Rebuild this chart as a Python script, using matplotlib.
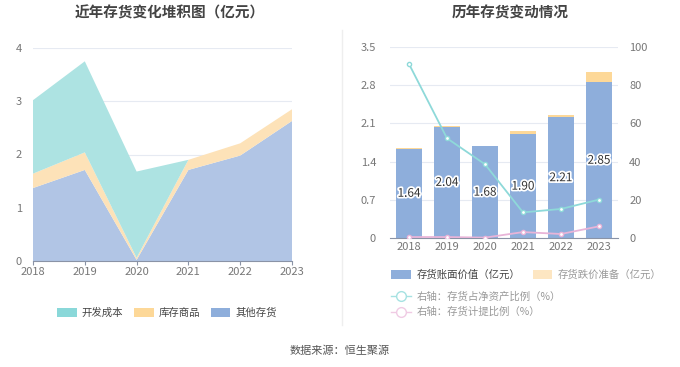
import numpy as np
import matplotlib.pyplot as plt
import matplotlib.patheffects as pe
from matplotlib.patches import Patch
from matplotlib.lines import Line2D

plt.rcParams['font.family'] = ['Noto Sans CJK SC', 'DejaVu Sans']

years = ['2018', '2019', '2020', '2021', '2022', '2023']

# left: stacked area (亿元)
other_stock = [1.37, 1.71, 0.02, 1.71, 1.98, 2.63]
goods_stock = [0.27, 0.33, 0.04, 0.19, 0.23, 0.22]
dev_cost = [1.38, 1.71, 1.62, 0.0, 0.0, 0.0]

# right: bars (亿元) and ratios (%)
book_value = [1.64, 2.04, 1.68, 1.90, 2.21, 2.85]
provision = [0.01, 0.01, 0.0, 0.055, 0.04, 0.19]
ratio_net_assets = [91.1, 52.2, 38.6, 13.4, 15.2, 20.1]
ratio_provision = [0.5, 0.5, 0.2, 3.1, 2.1, 6.1]

W, H = 680, 367
fig = plt.figure(figsize=(6.8, 3.67), dpi=100)
tick_color = '#777777'
grid_color = '#e6eaf2'


def fx(px):
    return px / W


def fy(py):
    return 1 - py / H


# ---------- left chart ----------
ax1 = fig.add_axes([fx(33), fy(261), fx(292 - 33), fy(48) - fy(261)])
x = np.arange(len(years))
ax1.stackplot(x, other_stock, goods_stock, dev_cost,
              colors=['#b1c5e5', '#fde2b8', '#ade3e2'], linewidth=0)
ax1.set_xlim(0, 5)
ax1.set_ylim(0, 4)
ax1.set_yticks([0, 1, 2, 3, 4])
ax1.set_xticks(x)
ax1.set_xticklabels(years)
ax1.grid(axis='y', color=grid_color, lw=0.8)
ax1.set_axisbelow(True)
for s in ['top', 'right', 'left']:
    ax1.spines[s].set_visible(False)
ax1.spines['bottom'].set_color('#8a93a6')
ax1.tick_params(axis='y', length=0, labelsize=8, labelcolor=tick_color, pad=8)
ax1.tick_params(axis='x', length=3, color='#8a93a6', labelsize=8, labelcolor=tick_color, pad=1)

fig.text(fx(170), fy(13), '近年存货变化堆积图（亿元）', ha='center', va='center',
         fontsize=10.5, fontweight='bold', color='#444444')

left_handles = [Patch(facecolor='#8ad8d9', edgecolor='none'),
                Patch(facecolor='#fdd898', edgecolor='none'),
                Patch(facecolor='#8eaedb', edgecolor='none')]
fig.legend(left_handles, ['开发成本', '库存商品', '其他存货'], loc='center',
           bbox_to_anchor=(fx(167), fy(313)), ncol=3, frameon=False, fontsize=7.5,
           handlelength=1.9, handleheight=0.9, columnspacing=1.0, handletextpad=0.5,
           labelcolor='#444444')

# separator
fig.add_artist(Line2D([fx(342), fx(342)], [fy(30), fy(325)], color='#eeeeee', lw=1))

# ---------- right chart ----------
ax2 = fig.add_axes([fx(390), fy(238), fx(618 - 390), fy(47) - fy(238)])
ax2.bar(x, book_value, width=0.7, color='#8eaedb', zorder=2)
ax2.bar(x, provision, width=0.7, bottom=book_value, color='#fdd898', zorder=2)
for xi, v in zip(x, book_value):
    ax2.text(xi, v / 2, f'{v:.2f}', ha='center', va='center', fontsize=8.5,
             color='#333333', zorder=5,
             path_effects=[pe.withStroke(linewidth=2.5, foreground='white')])
ax2.set_xlim(-0.5, 5.5)
ax2.set_ylim(0, 3.5)
ax2.set_yticks([0, 0.7, 1.4, 2.1, 2.8, 3.5])
ax2.set_yticklabels(['0', '0.7', '1.4', '2.1', '2.8', '3.5'])
ax2.set_xticks(x)
ax2.set_xticklabels(years)
ax2.grid(axis='y', color=grid_color, lw=0.8)
ax2.set_axisbelow(True)
for s in ['top', 'right', 'left']:
    ax2.spines[s].set_visible(False)
ax2.spines['bottom'].set_color('#8a93a6')
ax2.tick_params(axis='y', length=0, labelsize=8, labelcolor=tick_color, pad=10)
ax2.tick_params(axis='x', length=0, labelsize=8, labelcolor=tick_color, pad=3)

ax3 = ax2.twinx()
ax3.plot(x, ratio_net_assets, color='#8ed9d9', lw=1.3, marker='o', ms=3,
         mfc='white', mec='#8ed9d9', mew=1, zorder=4)
ax3.plot(x, ratio_provision, color='#e8b4d8', lw=1.3, marker='o', ms=3,
         mfc='white', mec='#e8b4d8', mew=1, zorder=4)
ax3.set_ylim(0, 100)
ax3.set_yticks([0, 20, 40, 60, 80, 100])
for s in ['top', 'right', 'left', 'bottom']:
    ax3.spines[s].set_visible(False)
ax3.tick_params(axis='y', length=0, labelsize=8, labelcolor=tick_color, pad=8)

fig.text(fx(510), fy(13), '历年存货变动情况', ha='center', va='center',
         fontsize=10.5, fontweight='bold', color='#444444')

bar_handles = [Patch(facecolor='#8eaedb', edgecolor='none'),
               Patch(facecolor='#fde6c2', edgecolor='none')]
lg1 = fig.legend(bar_handles, ['存货账面价值（亿元）', '存货跌价准备（亿元）'],
                 loc='center left', bbox_to_anchor=(fx(382), fy(275)), ncol=2,
                 frameon=False, fontsize=7.5, handlelength=1.9, handleheight=0.9,
                 columnspacing=1.2, handletextpad=0.5, labelcolor='#999999')
lg1.get_texts()[0].set_color('#444444')
line_handles = [Line2D([], [], color='#a6e2e2', lw=1, marker='o', ms=7, mfc='white', mec='#a6e2e2'),
                Line2D([], [], color='#f0cbe4', lw=1, marker='o', ms=7, mfc='white', mec='#f0cbe4')]
fig.legend(line_handles, ['右轴：存货占净资产比例（%）', '右轴：存货计提比例（%）'],
           loc='upper left', bbox_to_anchor=(fx(382), fy(282)), ncol=1,
           frameon=False, fontsize=7.5, handlelength=1.9, handletextpad=0.5,
           labelspacing=0.5, labelcolor='#999999')

fig.text(fx(340), fy(351), '数据来源：恒生聚源', ha='center', va='center',
         fontsize=8, color='#555555')

fig.savefig('out.png', dpi=100)
